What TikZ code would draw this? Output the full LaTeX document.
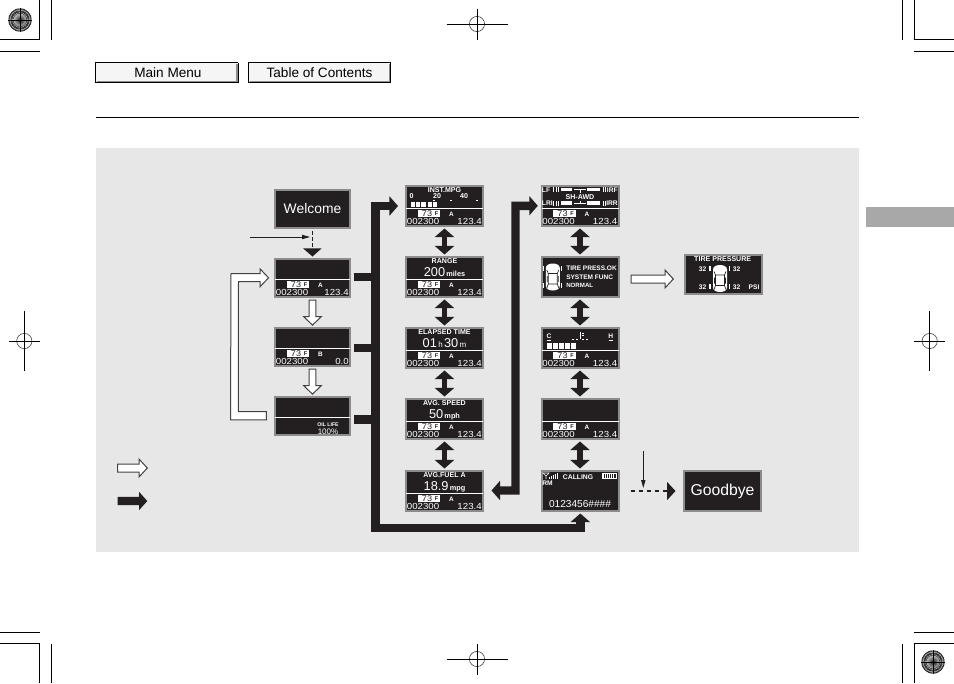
\documentclass[tikz,border=0pt]{standalone}
\usepackage{fontspec}
\setmainfont{Liberation Sans}
\usetikzlibrary{arrows.meta,calc}
\definecolor{ink}{HTML}{231F20}
\definecolor{panel}{HTML}{E7E7E7}
\definecolor{edge}{HTML}{8C8C8C}
\definecolor{tabgrey}{HTML}{A9A8A8}
\newcommand{\fs}[1]{\fontsize{#1}{#1}\selectfont}
\tikzset{
  screenbox/.style={draw=edge,fill=ink,line width=1.5pt,inner sep=0pt},
  leftscr/.style={screenbox,minimum width=56.25pt,minimum height=28.5pt},
  colscr/.style={screenbox,minimum width=57.75pt,minimum height=30pt},
  wtext/.style={text=white,inner sep=0pt,font=\fs{5.3}\bfseries},
  digits/.style={text=white,inner sep=0pt,font=\fs{6.6},xscale=1.1},
  btn/.style={fill=black!4,inner sep=0pt,text=black,font=\fs{10.2}},
  hollow/.style={draw=ink!85,fill=white,line width=.75pt,line join=miter},
  bus/.style={draw=ink,line width=6.3pt,line join=miter},
  stub/.style={draw=ink,line width=6.3pt},
  updown/.style={draw=ink,line width=4.4pt,{Triangle[length=6.4pt,width=14.2pt]}-{Triangle[length=6.4pt,width=14.2pt]}},
  crop/.style={draw=black,line width=.75pt},
  reg/.style={draw=black,line width=.5pt},
}
\newcommand{\lowerpanel}[3]{%
  \draw[white,line width=.6pt] ($(#1.south west)+(1,-18.7)$) -- ($(#1.south east)+(-1,-18.7)$);
  \fill[white] ($(#1.south west)+(12.7,-17)$) rectangle ($(#1.south west)+(35,-10.2)$);
  \node[inner sep=0pt,text=ink,font=\fs{6.2},xscale=1.1] (#1t) at ($(#1.south west)+(22,-13.6)$) {73};
  \node[inner sep=0pt,text=ink,font=\fs{4.2}\bfseries] (#1f) at ($(#1.south west)+(31.5,-13.6)$) {F};
  \node[wtext,font=\fs{4.8}\bfseries] (#1l) at ($(#1.south west)+(46.5,-13.2)$) {#2};
  \node[digits,anchor=west] (#1o) at ($(#1.south west)+(1.6,-5.2)$) {002300};
  \node[digits,anchor=east] (#1v) at ($(#1.south east)+(-2,-5.2)$) {#3};
}
\newcommand{\topline}[2]{\node[wtext] (#1h) at ($(#1.north)+(0,4.6)$) {#2};}
\newcommand{\caricon}[2]{%
  \begin{scope}[shift={(#1,#2)}]
    \fill[white] (-7,-9) .. controls (-7,-15) and (7,-15) .. (7,-9) -- (7,9) .. controls (7,15) and (-7,15) .. (-7,9) -- cycle;
    \draw[ink,line width=.5pt] (-4.5,-3.5) -- (4.5,-3.5) -- (6,-7) (-4.5,-3.5) -- (-6,-7) (-4.5,-3.5) -- (-4.5,7) -- (4.5,7) -- (4.5,-3.5);
    \draw[ink,line width=.5pt] (-4.5,7) -- (-6,11) (4.5,7) -- (6,11) (-5.5,-1) -- (-5.5,5) (5.5,-1) -- (5.5,5);
  \end{scope}}
\newcommand{\regmark}[4]{%
  \draw[reg,draw=black!70] (#1,#2) circle (7.6);
  \draw[reg] (#1-#3,#2) -- (#1+#3,#2) (#1,#2-#4) -- (#1,#2+#4);
}
\newcommand{\burst}[2]{%
  \begin{scope}[shift={(#1,#2)}]
    \fill[black!50] (0,0) circle (11.7);
    \foreach \a in {0,6,...,354} {\draw[black,line width=.3pt] (\a:4) -- (\a:11.7);}
    \foreach \r in {5,7.5,10} {\draw[white!80!black,line width=.3pt] (0,0) circle (\r);}
    \shade[inner color=black,middle color=black!90,outer color=black!20,opacity=.85] (0,0) circle (6.5);
    \draw[black,line width=.5pt] (-11.7,0) -- (11.7,0) (0,-11.7) -- (0,11.7);
  \end{scope}}
\begin{document}
\begin{tikzpicture}[x=0.75pt,y=-0.75pt]
\useasboundingbox (0,0) rectangle (954,683);
\fill[white] (0,0) rectangle (954,683);
\fill[panel] (96,148) rectangle (859,552);
\fill[tabgrey] (866,207) rectangle (954,227);
\draw[black,line width=.75pt] (96,117) -- (859,117);
% crop marks
\draw[crop] (0,39.5) -- (39.5,39.5) -- (39.5,0) (51.3,0) -- (51.3,39.5) (0,51.5) -- (39.5,51.5);
\draw[crop] (954,39.5) -- (914.5,39.5) -- (914.5,0) (902.5,0) -- (902.5,39.5) (914,51.5) -- (954,51.5);
\draw[crop] (0,643.5) -- (39.5,643.5) -- (39.5,683) (51.3,644) -- (51.3,683) (0,632.3) -- (39.5,632.3);
\draw[crop] (954,643.5) -- (914.5,643.5) -- (914.5,683) (902.5,644) -- (902.5,683) (914,632.3) -- (954,632.3);
\burst{20}{20}
\burst{933}{662}
\regmark{477}{24}{30.5}{15.5}
\regmark{477}{659}{30.5}{15.5}
\regmark{24.3}{341}{15.5}{30}
\regmark{929.7}{341}{15.5}{30}
% buttons
\node[btn,minimum width=106pt,minimum height=15pt] (mainmenu) at (166.6,72.7) {\hspace{2pt}Main Menu};
\node[btn,minimum width=106pt,minimum height=15pt] (toc) at (319.5,72.7) {Table of Contents};
\draw[black!45,line width=1.2pt] (96.5,81.4) -- (236.9,81.4) -- (236.9,64);
\draw[black!45,line width=1.2pt] (249.8,81.4) -- (389.6,81.4) -- (389.6,64);
\draw[black,line width=1pt] (95.5,82.6) -- (95.5,62.5) -- (238,62.5);
\draw[black,line width=1pt] (248.8,82.6) -- (248.8,62.5) -- (390.7,62.5);
\draw[black,line width=.5pt] (95.5,82.6) -- (238,82.6) -- (238,62.5);
\draw[black,line width=.5pt] (248.8,82.6) -- (390.7,82.6) -- (390.7,62.5);
% screens, left column
\node[leftscr] (welcome) at (312.5,209) {};
\node[leftscr] (scA) at (312.5,278) {};
\node[leftscr] (scB) at (312.5,347) {};
\node[leftscr] (scC) at (312.5,416) {};
\node[inner sep=0pt,text=white,font=\fs{10.4}] (welcometext) at (312.5,209) {Welcome};
\lowerpanel{scA}{A}{123.4}
\lowerpanel{scB}{B}{0.0}
\draw[white,line width=.6pt] ($(scC.south west)+(1,-18.3)$) -- ($(scC.south east)+(-1,-18.3)$);
\node[wtext,font=\fs{3.9}\bfseries] (oillife) at (328,425) {OIL LIFE};
\node[wtext,font=\fs{6}] (oilpct) at (328,431.3) {100\%};
% screens, middle column
\node[colscr] (inst) at (444.5,206) {};
\node[colscr] (range) at (444.5,277) {};
\node[colscr] (elapsed) at (444.5,348) {};
\node[colscr] (speed) at (444.5,419) {};
\node[colscr] (fuel) at (444.5,491) {};
\foreach \n in {inst,range,elapsed,speed,fuel} {\lowerpanel{\n}{A}{123.4}}
\topline{inst}{INST.MPG}
\node[wtext] (s0) at (411.7,196) {0};
\node[wtext] (s20) at (437,196) {20};
\node[wtext] (s40) at (464,196) {40};
\foreach \x in {434,451,477} {\fill[white] (\x-1,199.6) rectangle (\x+1,200.4);}
\foreach \x/\w in {411/3.5,416/3.5,421/5,427.5/4,433/4} {\fill[white] (\x,201.6) rectangle (\x+\w,206.8);}
\topline{range}{RANGE}
\node[inner sep=0pt,text=white] (rangeval) at (444.5,272.3) {{\fs{9.6}200}{\fs{5.5}\bfseries\,miles}};
\topline{elapsed}{ELAPSED TIME}
\node[inner sep=0pt,text=white] (elapsedval) at (444.5,343.5) {{\fs{9.6}01}{\fs{6}\,h\,}{\fs{9.6}30}{\fs{6}\,m}};
\topline{speed}{AVG. SPEED}
\node[inner sep=0pt,text=white] (speedval) at (444.5,414.5) {{\fs{9.6}50}{\fs{5.5}\bfseries\,mph}};
\topline{fuel}{AVG.FUEL A}
\node[inner sep=0pt,text=white] (fuelval) at (444.5,486.5) {{\fs{9.6}18.9}{\fs{5.5}\bfseries\,mpg}};
% screens, right column
\node[colscr] (awd) at (580,206) {};
\node[colscr] (tire) at (580,277) {};
\node[colscr] (temp) at (580,348) {};
\node[colscr] (blank) at (580,419) {};
\node[colscr] (call) at (580,491) {};
\lowerpanel{awd}{A}{123.4}
\lowerpanel{temp}{A}{123.4}
\lowerpanel{blank}{A}{123.4}
% SH-AWD rows
\foreach \yy in {189.7,203.3} {
  \fill[white] (561,\yy-2) rectangle (572,\yy+1.5);
  \fill[white] (587,\yy-2) rectangle (600,\yy+1.5);
  \foreach \x in {553,555.5,558,602.5,605} {\fill[white] (\x,\yy-2.4) rectangle (\x+1,\yy+2.4);}
}
\node[wtext,font=\fs{5}\bfseries,anchor=west] (lf) at (541.7,189.7) {LF};
\node[wtext,font=\fs{5}\bfseries,anchor=east] (rf) at (618,189.7) {IRF};
\node[wtext,font=\fs{5}\bfseries,anchor=west] (lr) at (541.7,203.3) {LRI};
\node[wtext,font=\fs{5}\bfseries,anchor=east] (rr) at (618,203.3) {IRR};
\node[wtext] (shawd) at (580,196.7) {SH-AWD};
\draw[white,line width=.7pt] (574,189.7) -- (586,189.7) (580,189.7) -- (580,192.5) (580,200.5) -- (580,204) (574,203.3) -- (586,203.3);
% tire press
\caricon{552.8}{277}
\foreach \x in {543.3,561.7} {\foreach \yy in {266,283} {\fill[white] (\x-.7,\yy) rectangle (\x+.7,\yy+5);}}
\node[wtext,anchor=west,font=\fs{4.9}\bfseries] (t1) at (566,268) {TIRE PRESS.OK};
\node[wtext,anchor=west,font=\fs{4.9}\bfseries] (t2) at (566,277) {SYSTEM FUNC};
\node[wtext,anchor=west,font=\fs{4.6}\bfseries] (t3) at (566,285.7) {NORMAL};
% temperature
\node[wtext,font=\fs{5}\bfseries] (tc) at (549,336.3) {C};
\node[wtext,font=\fs{5}\bfseries] (th) at (610.7,336.3) {H};
\draw[white,line width=.4pt] (546.8,339.8) -- (551,339.8) (608.5,339.8) -- (612.8,339.8);
\draw[white,line width=.5pt] (580,331.5) -- (580,339) (582,333) -- (584,333) (582,335) -- (584,335) (572,339.2) -- (574,339.2) (576,339.2) -- (578,339.2) (582,339.2) -- (584,339.2) (586,339.2) -- (588,339.2);
\foreach \x in {547,553,559,565,571} {\fill[white] (\x,342.7) rectangle (\x+4.8,348.6);}
% calling
\draw[white,line width=.5pt] (543,473) -- (549,473) -- (546,476) -- cycle (546,476) -- (546,479);
\foreach \x/\h in {549/2,551/3,553/4,555/5,557/6} {\fill[white] (\x,479) rectangle (\x+1.2,479-\h);}
\node[wtext,anchor=west,font=\fs{5.1}\bfseries] (calling) at (562.7,476.7) {CALLING};
\draw[white,line width=.5pt] (602,473.5) rectangle (616,478.5);
\foreach \x in {603,605,607,609,611,613} {\fill[white] (\x,474) rectangle (\x+1,478);}
\node[wtext,anchor=west,font=\fs{5}\bfseries] (rm) at (542,483.3) {RM};
\node[wtext,font=\fs{7.6}] (number) at (580,503.7) {0123456\#\#\#\#};
% screens, far right
\node[colscr,minimum height=29.5pt] (tirep) at (723,274.5) {};
\node[wtext] (tirepT) at (722.7,258.7) {TIRE PRESSURE};
\caricon{720}{278.5}
\foreach \x in {710,729.5} {\foreach \yy in {266,284} {\fill[white] (\x-.7,\yy) rectangle (\x+.7,\yy+5);}}
\node[wtext,font=\fs{5}\bfseries] (p1) at (702.7,269.3) {32};
\node[wtext,font=\fs{5}\bfseries] (p2) at (736.7,269.3) {32};
\node[wtext,font=\fs{5}\bfseries] (p3) at (702.7,287.3) {32};
\node[wtext,font=\fs{5}\bfseries] (p4) at (736.7,287.3) {32};
\node[wtext,font=\fs{5}\bfseries] (psi) at (754,287.3) {PSI};
\node[colscr] (goodbye) at (722.5,491) {};
\node[inner sep=0pt,text=white,font=\fs{11.8}] (goodbyetext) at (722.5,491) {Goodbye};
% start marker under Welcome
\coordinate (startdash) at ($(welcome.south)+(0,2)$);
\coordinate (starttip) at ($(scA.north)+(0,-1.5)$);
\coordinate (startin) at (250,237);
\draw[ink,line width=.7pt,dash pattern=on 3pt off 1.6pt] (startdash) -- (312.5,248.5);
\draw[ink,line width=.7pt,-{Triangle[length=6pt,width=3.2pt]}] (startin) -- (310,237);
\fill[ink] (303,248.3) -- (321.7,248.3) -- (starttip) -- cycle;
% hollow arrows
\draw[hollow] ($(scA.south)+(-3.4,2)$) -- ++(0,16.5) -- ++(-5.6,0) -- ++(9,8.6) -- ++(9,-8.6) -- ++(-5.6,0) -- ++(0,-16.5) -- cycle;
\draw[hollow] ($(scB.south)+(-3.4,2)$) -- ++(0,16.5) -- ++(-5.6,0) -- ++(9,8.6) -- ++(9,-8.6) -- ++(-5.6,0) -- ++(0,-16.5) -- cycle;
\draw[hollow] ($(scC.west)+(-7.7,-4.5)$) -- ++(-28,0) -- ($(scA.west)+(-35.5,3.5)$) -- ++(21.5,0) -- ++(0,5.3) -- ++(8.5,-9) -- ++(-8.5,-9) -- ++(0,4.9) -- ++(-29,0) -- ($(scC.west)+(-43.5,3.8)$) -- ($(scC.west)+(-7.7,3.8)$) -- cycle;
\coordinate (legw) at (117.5,468);
\coordinate (legb) at (117.5,501);
\draw[hollow] ($(legw)+(0,-4)$) -- ++(21.5,0) -- ++(0,-5) -- ++(8.3,9) -- ++(-8.3,9) -- ++(0,-5) -- ++(-21.5,0) -- cycle;
\draw[hollow] ($(tire.east)+(11.5,-2)$) -- ++(34,0) -- ++(0,-5) -- ++(8.3,9) -- ++(-8.3,9) -- ++(0,-5) -- ++(-34,0) -- cycle;
\fill[ink] ($(legb)+(0,-4.2)$) -- ++(21.5,0) -- ++(0,-5) -- ++(8.3,9.2) -- ++(-8.3,9.2) -- ++(0,-5) -- ++(-21.5,0) -- cycle;
% solid buses
\coordinate (busA) at ($(scA.east)+(3,-1)$);
\coordinate (busB) at ($(scB.east)+(3,1)$);
\coordinate (busC) at ($(scC.east)+(3,3.3)$);
\draw[stub] (busA) -- (375.3,277);
\draw[stub] (busB) -- (375.3,348);
\draw[stub] (busC) -- (375.3,419.3);
\draw[bus,{Triangle[length=6.4pt,width=14.2pt]}-{Triangle[length=6.4pt,width=14.2pt]}] ($(inst.west)+(-7,0)$) -- (375.3,206) -- (375.3,527.7) -- (580.3,527.7) -- ($(call.south)+(0.3,1.5)$);
\draw[bus,{Triangle[length=6.4pt,width=14.2pt]}-{Triangle[length=6.4pt,width=14.2pt]}] ($(fuel.east)+(7.5,-0.5)$) -- (515.5,490.5) -- (515.5,205.8) -- ($(awd.west)+(-2.7,-0.2)$);
% double arrows between screens
\foreach \a/\b in {inst/range,range/elapsed,elapsed/speed,speed/fuel,awd/tire,tire/temp,temp/blank,blank/call} {
  \draw[updown] ($(\a.south)+(0,1.5)$) -- ($(\b.north)+(0,-1.5)$);
}
% dashed exit
\coordinate (callout) at ($(call.east)+(11,0)$);
\coordinate (exitin) at (643.3,451);
\draw[ink,line width=1pt,dash pattern=on 3.5pt off 2.5pt,-{Triangle[length=6.2pt,width=13.2pt]}] (callout) -- ($(goodbye.west)+(-7.5,0)$);
\draw[ink,line width=.7pt,-{Triangle[length=6pt,width=3.2pt]}] (exitin) -- (643.3,488);
\end{tikzpicture}
\end{document}
